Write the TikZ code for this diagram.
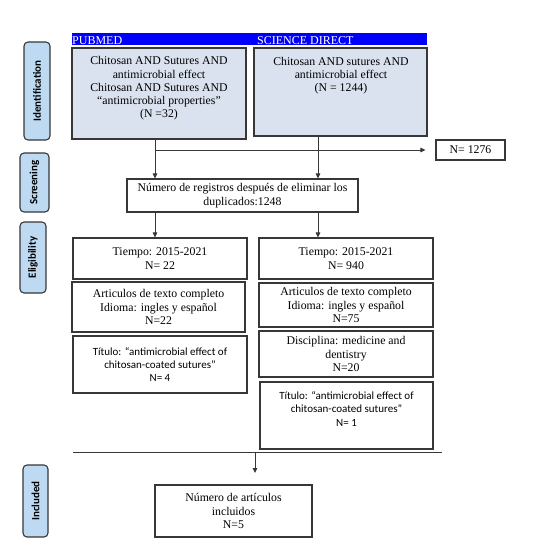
\documentclass[tikz,border=0pt]{standalone}
\usepackage{fontspec}
\setmainfont{Liberation Serif}
\newfontfamily\carlito{Carlito}
\usetikzlibrary{arrows.meta}
\definecolor{boxfill}{RGB}{219,226,239}
\definecolor{sidefill}{RGB}{190,218,242}
\definecolor{hdrblue}{RGB}{0,0,250}
\definecolor{lncol}{RGB}{55,55,55}
\begin{document}
\begin{tikzpicture}[x=1pt,y=1pt,
  box/.style={draw=lncol, line width=1.1pt, inner sep=0pt, align=center, font=\fontsize{11.8}{13.3}\selectfont},
  txt/.style={inner sep=0pt, align=center, font=\fontsize{11.8}{13.3}\selectfont},
  sans/.style={font=\carlito\fontsize{11}{13.3}\selectfont},
  side/.style={draw=lncol, line width=1.1pt, rounded corners=4pt, fill=sidefill, inner sep=0pt, font=\carlito\bfseries\fontsize{11}{13}\selectfont},
  hdrtxt/.style={inner sep=0pt, text=white, font=\fontsize{12}{13}\selectfont},
  arr/.style={draw=lncol, line width=0.9pt, -{Triangle[length=5pt,width=4.5pt]}},
  ln/.style={draw=lncol, line width=1pt}]
\fill[white] (0,0) rectangle (538,-555);
\useasboundingbox (0,0) rectangle (538,-555);

% side labels
\node[side, rotate=90, minimum width=98pt, minimum height=26pt] (sid) at (37,-91) {Identification};
\node[side, rotate=90, minimum width=59pt, minimum height=29pt] (sscr) at (34.5,-182.5) {Screening};
\node[side, rotate=90, minimum width=71pt, minimum height=26pt] (seli) at (33,-257.5) {Eligibility};
\node[side, rotate=90, minimum width=72pt, minimum height=25pt] (sinc) at (35.5,-501) {Included};

% header bar
\node[fill=hdrblue, inner sep=0pt, minimum width=355pt, minimum height=12pt] (hdr) at (249.5,-39) {};
\node[hdrtxt, anchor=base west] (hpm) at (72,-44) {PUBMED};
\node[hdrtxt, anchor=base west] (hsd) at (257,-44) {SCIENCE DIRECT};

% identification boxes
\node[box, fill=boxfill, minimum width=174pt, minimum height=91pt] (pm) at (159,-93.5) {};
\node[txt] (pmt) at (159,-88.5) {Chitosan AND Sutures AND\\antimicrobial effect\\Chitosan AND Sutures AND\\“antimicrobial properties”\\(N =32)};
\node[box, fill=boxfill, minimum width=173pt, minimum height=88pt] (sd) at (340.5,-92) {};
\node[txt] (sdt) at (341,-75.5) {Chitosan AND sutures AND\\antimicrobial effect\\(N = 1244)};
\node[box, minimum width=69pt, minimum height=20pt] (n1276) at (470.5,-150) {N= 1276};

% screening
\node[box, minimum width=231pt, minimum height=33pt] (scr) at (242.5,-195.5) {Número de registros después de eliminar los\\duplicados:1248};

% eligibility left
\node[box, minimum width=174pt, minimum height=41pt] (lt1) at (160,-258.5) {Tiempo: 2015-2021\\N= 22};
\node[box, minimum width=173pt, minimum height=50pt] (lt2) at (158.5,-307) {Articulos de texto completo\\Idioma: ingles y español\\N=22};
\node[box, sans, minimum width=174pt, minimum height=57pt] (lt3) at (160,-364.5) {Título: “antimicrobial effect of\\chitosan-coated sutures”\\N= 4};

% eligibility right
\node[box, minimum width=174pt, minimum height=41pt] (rt1) at (346,-258.5) {Tiempo: 2015-2021\\N= 940};
\node[box, minimum width=174pt, minimum height=44pt] (rt2) at (346,-305) {Articulos de texto completo\\Idioma: ingles y español\\N=75};
\node[box, minimum width=174pt, minimum height=46pt] (rt3) at (346,-354) {Disciplina: medicine and\\dentistry\\N=20};
\node[box, minimum width=173pt, minimum height=67pt] (rt4) at (346.5,-415.5) {};
\node[txt, sans] (rt4t) at (346.5,-409) {Título: “antimicrobial effect of\\chitosan-coated sutures”\\N= 1};

% included
\node[box, minimum width=157pt, minimum height=52pt] (inc) at (233.5,-511) {Número de artículos\\incluidos\\N=5};

% connectors
\coordinate (cL) at (155,0);
\coordinate (cR) at (318,0);
\draw[arr] (pm.south -| cL) -- (scr.north -| cL);
\draw[arr] (sd.south -| cR) -- (scr.north -| cR);
\coordinate (hj) at (155,-150);
\draw[arr] (hj) -- ([xshift=-10pt]n1276.west);
\draw[arr] (scr.south -| cL) -- (lt1.north -| cL);
\draw[arr] (scr.south -| cR) -- (rt1.north -| cR);
\coordinate (bl) at (73,-452.5);
\coordinate (br) at (442,-452.5);
\draw[ln] (bl) -- (br);
\coordinate (bj) at (255,-452.5);
\coordinate (bt) at (255,-473);
\draw[arr] (bj) -- (bt);
\end{tikzpicture}
\end{document}
